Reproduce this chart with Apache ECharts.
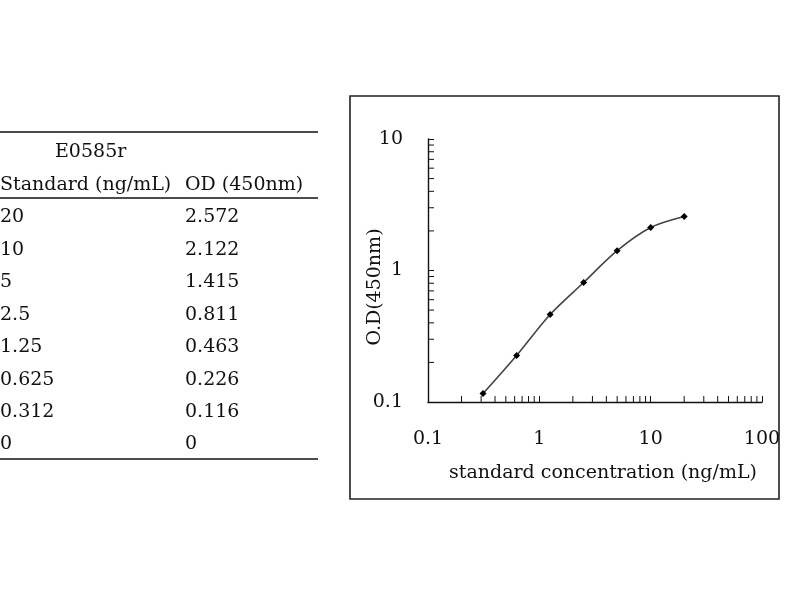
<!DOCTYPE html>
<html><head><meta charset="utf-8">
<script src="https://cdn.jsdelivr.net/npm/echarts@6/dist/echarts.min.js"></script>
<style>html,body{margin:0;padding:0;background:#fff}#c{width:800px;height:600px}</style>
</head><body><div id="c"></div>
<script>
// ---- data ----
const kitName = 'E0585r';
const tableHeaders = ['Standard (ng/mL)', 'OD (450nm)'];
const standards = [20, 10, 5, 2.5, 1.25, 0.625, 0.312, 0];
const odValues = [2.572, 2.122, 1.415, 0.811, 0.463, 0.226, 0.116, 0];
const xTickLabels = ['0.1', '1', '10', '100'];
const yTickLabels = ['0.1', '1', '10'];
const xTitle = 'standard concentration (ng/mL)';
const yTitle = 'O.D(450nm)';

const FONT = 'DejaVu Serif';
const FS = 19;
const INK = '#111';

const points = standards.map((s, i) => [s, odValues[i]]).filter(p => p[0] > 0 && p[1] > 0).reverse();

// minor tick positions (2..9 within each decade)
const decadesX = [0.1, 1, 10];
const decadesY = [0.1, 1];
const minorTicks = [];
decadesX.forEach(d => { for (let k = 2; k <= 9; k++) minorTicks.push([+(d * k).toPrecision(3), 0.1, 0]); });
decadesY.forEach(d => { for (let k = 2; k <= 9; k++) minorTicks.push([0.1, +(d * k).toPrecision(3), 1]); });

// table graphics
const rowY = [217, 250, 282, 315, 347, 380, 412, 444];
const F = FS + 'px "' + FONT + '"';
const graphics = [];
graphics.push({type:'line', shape:{x1:0,y1:132,x2:318,y2:132}, style:{stroke:INK,lineWidth:1.4}});
graphics.push({type:'line', shape:{x1:0,y1:198,x2:318,y2:198}, style:{stroke:INK,lineWidth:1.4}});
graphics.push({type:'line', shape:{x1:0,y1:459,x2:318,y2:459}, style:{stroke:INK,lineWidth:1.4}});
graphics.push({type:'text', x:55, y:152, style:{text:kitName, font:F, fill:INK, verticalAlign:'middle'}});
graphics.push({type:'text', x:0, y:185, style:{text:tableHeaders[0], font:F, fill:INK, verticalAlign:'middle'}});
graphics.push({type:'text', x:185, y:185, style:{text:tableHeaders[1], font:F, fill:INK, verticalAlign:'middle'}});
standards.forEach((s, i) => {
  graphics.push({type:'text', x:0, y:rowY[i], style:{text:String(s), font:F, fill:INK, verticalAlign:'middle'}});
  graphics.push({type:'text', x:185, y:rowY[i], style:{text:odValues[i] === 0 ? '0' : odValues[i].toFixed(3), font:F, fill:INK, verticalAlign:'middle'}});
});
// chart frame
graphics.push({type:'rect', shape:{x:350,y:96,width:429,height:403}, style:{fill:'none',stroke:'#222',lineWidth:1.6}});
graphics.push({type:'text', x:603, y:473, style:{text:xTitle, font:F, fill:INK, align:'center', verticalAlign:'middle'}});
graphics.push({type:'text', x:375, y:287, rotation:Math.PI/2, style:{text:yTitle, font:F, fill:INK, align:'center', verticalAlign:'middle'}});

const chart = echarts.init(document.getElementById('c'));
chart.setOption({
  animation:false,
  backgroundColor:'#fff',
  grid:{left:428, right:38, top:139, bottom:198},
  xAxis:{type:'log', logBase:10, min:0.1, max:100,
    axisLine:{show:true, onZero:false, lineStyle:{color:INK, width:1.4}},
    axisTick:{show:true, inside:true, length:6, lineStyle:{color:INK}},
    axisLabel:{margin:28, fontFamily:FONT, fontSize:FS, color:INK,
      formatter:v => { const s = String(+v.toPrecision(3)); return xTickLabels.includes(s) ? s : ''; }},
    splitLine:{show:false}},
  yAxis:{type:'log', logBase:10, min:0.1, max:10,
    axisLine:{show:true, onZero:false, lineStyle:{color:INK, width:1.4}},
    axisTick:{show:true, inside:true, length:6, lineStyle:{color:INK}},
    axisLabel:{margin:25, fontFamily:FONT, fontSize:FS, color:INK,
      formatter:v => { const s = String(+v.toPrecision(3)); return yTickLabels.includes(s) ? s : ''; }},
    splitLine:{show:false}},
  graphic:graphics,
  series:[
    {type:'custom', coordinateSystem:'cartesian2d', silent:true, clip:false,
      data:minorTicks,
      renderItem:(params, api) => {
        const p = api.coord([api.value(0), api.value(1)]);
        const dir = api.value(2);
        const shape = dir === 0 ? {x1:p[0], y1:p[1], x2:p[0], y2:p[1]-6} : {x1:p[0], y1:p[1], x2:p[0]+6, y2:p[1]};
        return {type:'line', shape:shape, style:{stroke:INK, lineWidth:1}};
      }},
    {type:'line', data:points, smooth:0.3, symbol:'diamond', symbolSize:7,
      lineStyle:{color:'#444', width:1.6},
      itemStyle:{color:'#000'}}
  ]
});
</script></body></html>
